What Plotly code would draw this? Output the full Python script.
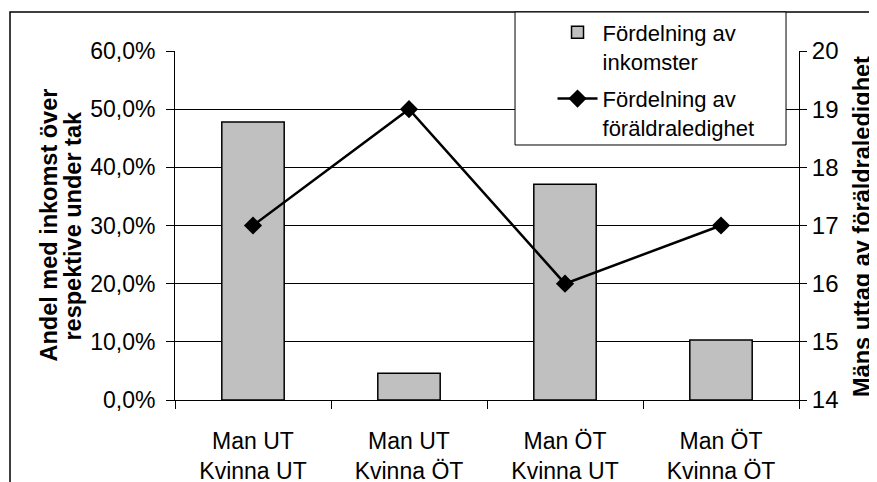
import plotly.graph_objs as go

# data
categories = ["Man UT<br>Kvinna UT", "Man UT<br>Kvinna ÖT", "Man ÖT<br>Kvinna UT", "Man ÖT<br>Kvinna ÖT"]
inkomster = [0.478, 0.046, 0.371, 0.103]
foraldraledighet = [17, 19, 16, 17]

FONT = "Liberation Sans, Arial, sans-serif"


def plot_it():
    bars = go.Bar(x=categories, y=inkomster, name="Fördelning av<br>inkomster", legendgroup="a",
                  width=0.4, marker=dict(color="#c0c0c0", line=dict(color="black", width=1.5)))
    line = go.Scatter(x=categories, y=foraldraledighet, name="Fördelning av<br>föräldraledighet",
                      legendgroup="b", yaxis="y2", mode="lines+markers",
                      line=dict(color="black", width=2.5),
                      marker=dict(symbol="diamond", size=14, color="black"))

    # the page body adds an 8px offset, so margins are shifted to compensate
    layout = go.Layout(
        width=877, height=482,
        margin=dict(l=167, r=86, t=43, b=90, autoexpand=False),
        paper_bgcolor="white", plot_bgcolor="white",
        separators=", ",
        font=dict(family=FONT, size=23, color="black"),
        showlegend=True,
        legend=dict(x=0.605, y=1.113, xanchor="left", yanchor="top", valign="top",
                    bgcolor="rgba(0,0,0,0)", borderwidth=0, itemwidth=40,
                    tracegroupgap=6, font=dict(size=22)),
        xaxis=dict(type="category", range=[-0.5, 3.5], tickson="boundaries",
                   ticks="outside", ticklen=8, tickcolor="black", ticklabelstandoff=20,
                   showline=True, linecolor="black", linewidth=1, automargin=False,
                   showgrid=False, tickfont=dict(size=23)),
        yaxis=dict(range=[0, 0.6], dtick=0.1, tickformat=".1%",
                   ticks="outside", ticklen=8, tickcolor="black", ticklabelstandoff=6,
                   showline=True, linecolor="black", linewidth=1, tickfont=dict(size=23),
                   showgrid=True, gridcolor="black", gridwidth=1, zeroline=False, automargin=False),
        yaxis2=dict(range=[14, 20], dtick=1, overlaying="y", side="right",
                    ticks="outside", ticklen=7, tickcolor="black", tickfont=dict(size=24),
                    showline=True, linecolor="black", linewidth=1, automargin=False,
                    showgrid=False, zeroline=False),
        shapes=[
            # outer chart frame (only left/top edges are in view)
            dict(type="rect", xref="paper", yref="paper", x0=-0.2644, x1=2, y0=-2, y1=1.1117,
                 line=dict(color="black", width=1.5), layer="below"),
            # legend box
            dict(type="rect", xref="paper", yref="paper", x0=0.5449, x1=0.9792, y0=0.7307, y1=1.1117,
                 line=dict(color="black", width=1), fillcolor="white", layer="above"),
        ],
        annotations=[
            dict(text="<b>Andel med inkomst över</b>", xref="paper", yref="paper",
                 x=-0.2035, y=0.5, xanchor="center", yanchor="middle", textangle=-90,
                 showarrow=False, font=dict(size=23.5)),
            dict(text="<b>respektive under tak</b>", xref="paper", yref="paper",
                 x=-0.165, y=0.5, xanchor="center", yanchor="middle", textangle=-90,
                 showarrow=False, font=dict(size=23.5)),
            dict(text="<b>Mäns uttag av föräldraledighet</b>", xref="paper", yref="paper",
                 x=1.101, y=0.496, xanchor="center", yanchor="middle", textangle=-90,
                 showarrow=False, font=dict(size=23.5)),
        ],
    )
    fig = go.Figure(data=[bars, line], layout=layout)
    fig.write_html("out.html")


if __name__ == "__main__":
    plot_it()
